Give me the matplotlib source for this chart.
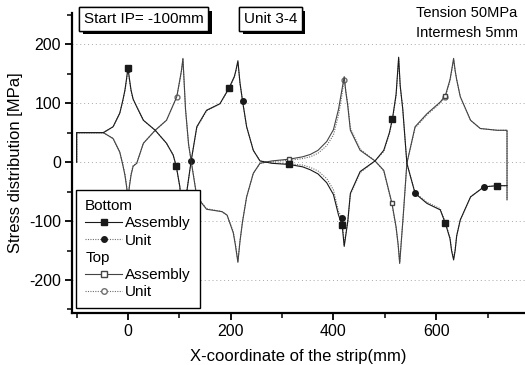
import matplotlib
matplotlib.use("Agg")
import matplotlib.pyplot as plt
from matplotlib.lines import Line2D
from matplotlib.patches import Patch
import matplotlib.patheffects as pe
from matplotlib.ticker import MultipleLocator

plt.rcParams['font.family'] = ['Liberation Sans', 'DejaVu Sans']
plt.rcParams['axes.unicode_minus'] = False

# ---- data ----
x_bottom = [-100, -100, -75, -48, -29, -16, -10, -6, -3, 0, 3, 6, 10, 17, 30, 53, 75, 88, 94, 101, 108,
            115, 123, 134, 153, 179, 197, 207, 210, 214, 218, 223, 231, 244, 257, 280, 314, 340,
            355, 370, 387, 400, 410, 417, 421, 428, 433, 452, 481, 498, 509, 515, 522, 527, 530,
            535, 543, 559, 582, 608, 618, 627, 630, 634, 637, 640, 647, 667, 693, 719, 738]
y_bottom_assembly = [0, 50, 50, 50, 60, 83, 105, 122, 140, 160, 140, 122, 107, 94, 71, 54, 32, 12, -7, -42,
                     -120, -47, 2, 60, 88, 99, 126, 145, 155, 172, 135, 104, 60, 20, 2, -2, -4, -8,
                     -13, -20, -35, -55, -90, -107, -143, -100, -53, -16, 2, 20, 50, 74, 115, 178, 130,
                     90, -2, -53, -70, -81, -104, -130, -150, -166, -150, -125, -98, -59, -42, -40, -40]
y_bottom_unit = [0, 50, 50, 50, 60, 83, 104, 120, 138, 158, 138, 120, 106, 94, 71, 54, 32, 12, -7, -42,
                 -118, -47, 2, 58, 87, 99, 125, 144, 154, 170, 134, 104, 60, 20, 2, -1, -3, -5,
                 -9, -15, -28, -47, -84, -95, -140, -100, -55, -18, 2, 18, 48, 72, 112, 175, 128,
                 90, -2, -52, -68, -79, -102, -128, -148, -163, -148, -125, -98, -59, -42, -40, -40]

x_top = [-100, -100, -75, -48, -29, -16, -10, -6, -3, 0, 3, 6, 10, 17, 30, 53, 75, 95, 101, 104, 107,
         112, 118, 123, 134, 153, 183, 193, 205, 209, 214, 218, 223, 231, 244, 257, 280, 314, 340,
         355, 370, 387, 400, 410, 416, 421, 424, 428, 433, 452, 481, 498, 514, 522, 526, 529, 533,
         536, 543, 559, 582, 608, 618, 627, 630, 634, 637, 640, 647, 667, 686, 719, 738, 738]
y_top_assembly = [0, 50, 50, 50, 40, 17, -5, -22, -40, -61, -40, -22, -7, -2, 32, 54, 71, 111, 140, 155, 176,
                  90, 30, 2, -59, -80, -84, -90, -120, -140, -170, -135, -101, -59, -19, -2, 2, 5, 9,
                  13, 20, 35, 55, 90, 120, 145, 120, 95, 54, 20, 2, -14, -70, -110, -140, -172, -125,
                  -90, -2, 60, 82, 102, 113, 140, 155, 176, 155, 140, 111, 71, 57, 54, 54, -64]
y_top_unit = [0, 50, 50, 50, 40, 17, -5, -20, -38, -59, -38, -20, -6, -2, 32, 54, 71, 110, 138, 153, 174,
              90, 30, 2, -58, -79, -84, -90, -118, -138, -168, -134, -101, -59, -19, -2, 1, 3, 6,
              9, 15, 28, 46, 80, 111, 140, 122, 98, 58, 22, 2, -15, -72, -112, -140, -170, -124,
              -90, -2, 58, 80, 100, 111, 138, 153, 174, 155, 140, 111, 71, 57, 54, 54, -64]

x_ticks = [0, 200, 400, 600]
y_ticks = [-200, -100, 0, 100, 200]

# ---- figure ----
fig = plt.figure(figsize=(5.25, 3.65), dpi=100)
ax = fig.add_axes([72/525, 1-313/365, 1-72/525, (313-13)/365])

ax.set_xlim(-109, 773)
ax.set_ylim(-256, 253)

for yv in y_ticks:
    ax.axhline(yv, color='#a8a8a8', lw=0.7, ls=(0, (1, 3)), zorder=1)

dark = '#1a1a1a'
grey = '#6e6e6e'
ax.plot(x_top, y_top_unit, color=grey, lw=0.8, ls=(0, (1, 1.2)), zorder=2,
        marker='o', mfc='white', mec=grey, ms=3.5, markevery=[17, 45, 62])
ax.plot(x_top, y_top_assembly, color='#444444', lw=0.8, zorder=3,
        marker='s', mfc='white', mec='#444444', ms=3.5, markevery=[37, 52, 62])
ax.plot(x_bottom, y_bottom_unit, color=grey, lw=0.8, ls=(0, (1, 1.2)), zorder=2,
        marker='o', mfc=dark, mec=dark, ms=4, markevery=[9, 22, 31, 43, 57, 68])
ax.plot(x_bottom, y_bottom_assembly, color=dark, lw=0.8, zorder=3,
        marker='s', mfc=dark, mec=dark, ms=4, markevery=[9, 18, 26, 36, 43, 51, 60, 69])

ax.spines['top'].set_visible(False)
ax.spines['right'].set_visible(False)
for s in ('left', 'bottom'):
    ax.spines[s].set_linewidth(1.6)
    ax.spines[s].set_color('black')

ax.set_xticks(x_ticks)
ax.set_yticks(y_ticks)
ax.xaxis.set_minor_locator(MultipleLocator(100))
ax.yaxis.set_minor_locator(MultipleLocator(50))
ax.tick_params(axis='both', which='major', direction='out', length=5, width=1.3,
               labelsize=11.5, pad=3)
ax.tick_params(axis='both', which='minor', direction='out', length=3.5, width=1.1)

ax.set_xlabel('X-coordinate of the strip(mm)', fontsize=12, labelpad=7)
ax.set_ylabel('Stress distribution [MPa]', fontsize=12, labelpad=4)

# annotation boxes
def boxed(x, y, s):
    t = fig.text(x, y, s, fontsize=11, ha='left', va='center',
                 bbox=dict(boxstyle='square,pad=0.3', fc='white', ec='black', lw=1.0))
    t.get_bbox_patch().set_path_effects([
        pe.withSimplePatchShadow(offset=(2.5, -2.5), shadow_rgbFace='black', alpha=1.0),
        pe.Normal()])
    return t

boxed(84/525, 1-19/365, 'Start IP= -100mm')
boxed(244/525, 1-19/365, 'Unit 3-4')
fig.text(517/525, 1-13/365, 'Tension 50MPa', fontsize=10.5, ha='right', va='center')
fig.text(518/525, 1-33/365, 'Intermesh 5mm', fontsize=10.5, ha='right', va='center')

# legend
handles = [Patch(visible=False),
           Line2D([], [], color=dark, lw=0.8, marker='s', mfc=dark, mec=dark, ms=4),
           Line2D([], [], color=grey, lw=0.8, ls=(0, (1, 1.2)), marker='o', mfc=dark, mec=dark, ms=4),
           Patch(visible=False),
           Line2D([], [], color='#444444', lw=0.8, marker='s', mfc='white', mec='#444444', ms=4),
           Line2D([], [], color=grey, lw=0.8, ls=(0, (1, 1.2)), marker='o', mfc='white', mec=grey, ms=4)]
labels = ['Bottom', 'Assembly', 'Unit', 'Top', 'Assembly', 'Unit']
leg = ax.legend(handles, labels, loc='upper left', bbox_to_anchor=(4/453, 1-(190-13)/300),
                bbox_transform=ax.transAxes, fontsize=11, frameon=True, fancybox=False,
                edgecolor='black', framealpha=1, borderpad=0.6, labelspacing=0.21,
                handlelength=2.4, handletextpad=0.2, borderaxespad=0)
leg.get_frame().set_linewidth(1.0)
leg.set_zorder(10)
rows = leg._legend_handle_box.get_children()[0].get_children()
for i in (0, 3):
    rows[i].get_children()[0].set_width(0)
    rows[i].sep = 0

fig.savefig('out.png', dpi=100)
